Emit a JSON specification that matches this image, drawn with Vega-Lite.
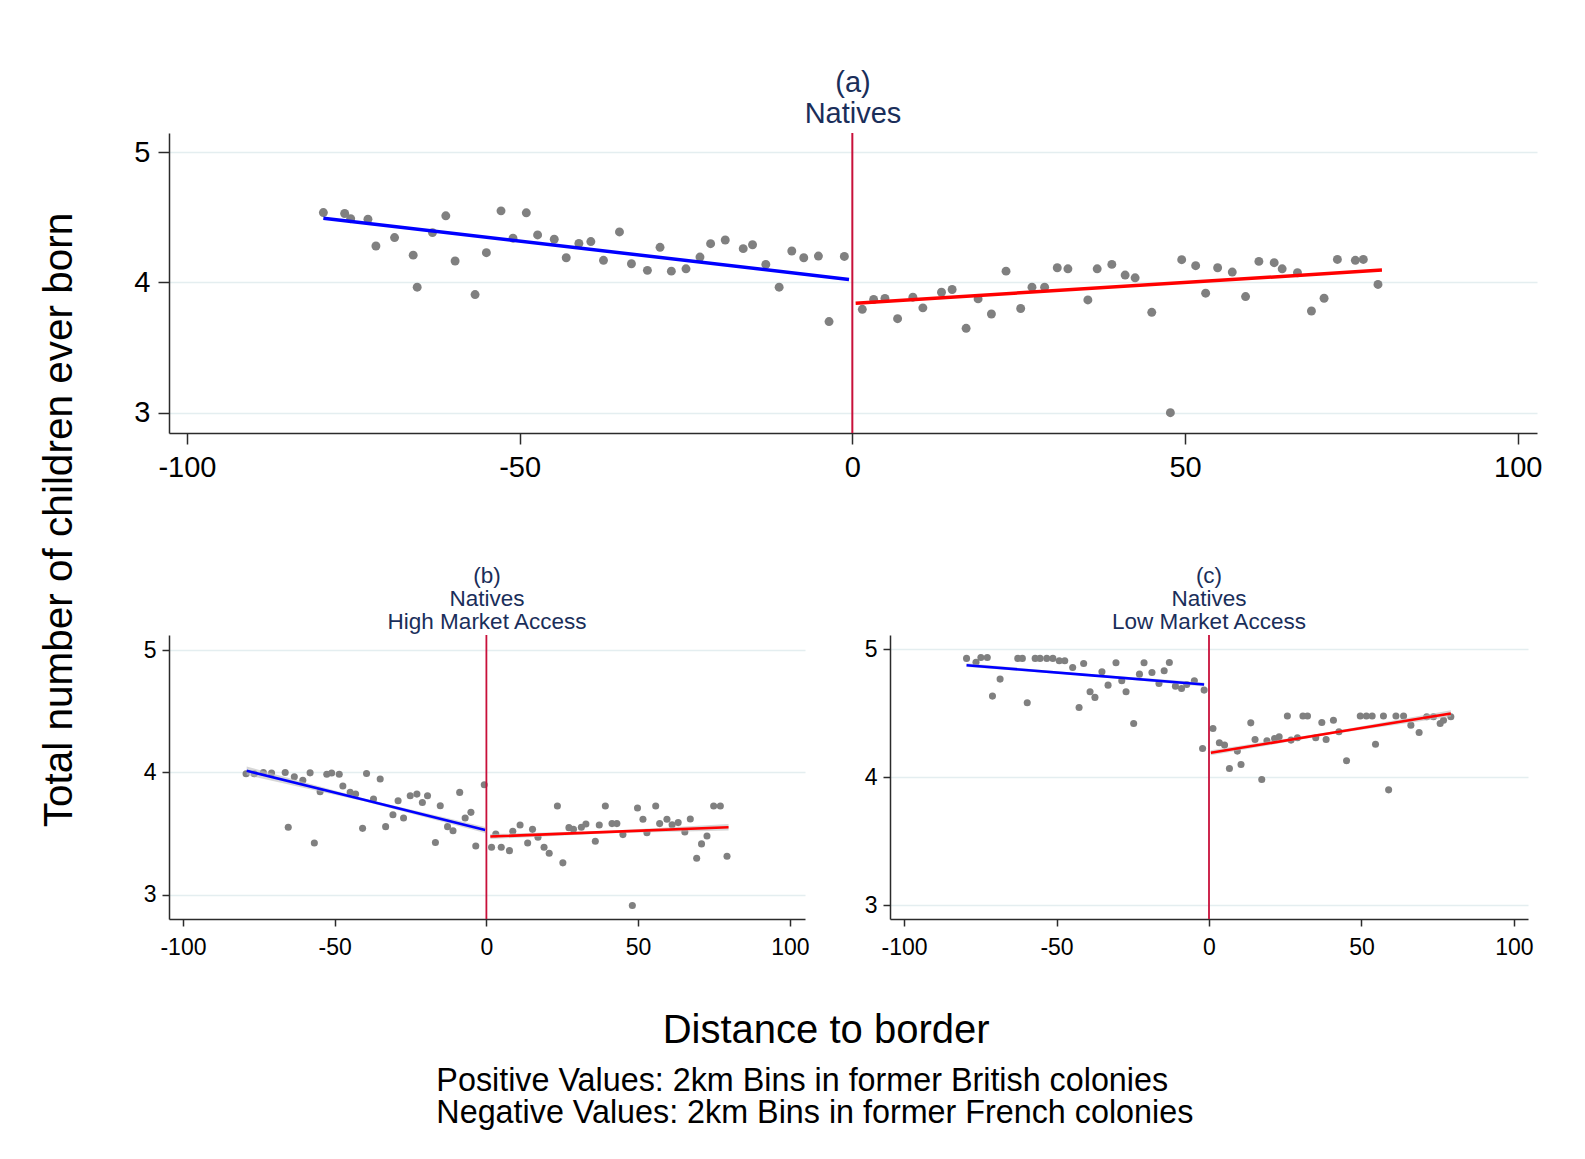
{
  "$schema": "https://vega.github.io/schema/vega-lite/v6.json",
  "background": "white",
  "padding": {"left": 40, "top": 69, "right": 30, "bottom": 20},
  "config": {
    "font": "Liberation Sans",
    "view": {"stroke": null},
    "axis": {
      "domainColor": "#2b2b2b",
      "domainWidth": 1.5,
      "tickColor": "#2b2b2b",
      "tickWidth": 1.5,
      "labelColor": "black",
      "labelFont": "Liberation Sans",
      "gridColor": "#e4eef0",
      "gridWidth": 1.5,
      "title": null
    }
  },
  "datasets": {
    "a_pts": [
      {"x": -79.5, "y": 4.537}, {"x": -76.3, "y": 4.53}, {"x": -75.4, "y": 4.49}, {"x": -72.8, "y": 4.486}, {"x": -71.6, "y": 4.28},
      {"x": -68.8, "y": 4.345}, {"x": -66.0, "y": 4.21}, {"x": -65.4, "y": 3.964}, {"x": -63.1, "y": 4.383}, {"x": -61.1, "y": 4.512},
      {"x": -59.7, "y": 4.165}, {"x": -56.7, "y": 3.907}, {"x": -55.0, "y": 4.229}, {"x": -52.8, "y": 4.55}, {"x": -51.0, "y": 4.34},
      {"x": -49.0, "y": 4.535}, {"x": -47.3, "y": 4.365}, {"x": -44.8, "y": 4.332}, {"x": -43.0, "y": 4.19}, {"x": -41.1, "y": 4.30},
      {"x": -39.3, "y": 4.314}, {"x": -37.4, "y": 4.17}, {"x": -35.0, "y": 4.388}, {"x": -33.2, "y": 4.144}, {"x": -30.8, "y": 4.093},
      {"x": -28.9, "y": 4.27}, {"x": -27.2, "y": 4.087}, {"x": -25.0, "y": 4.105}, {"x": -22.9, "y": 4.195}, {"x": -21.3, "y": 4.298},
      {"x": -19.1, "y": 4.326}, {"x": -16.4, "y": 4.26}, {"x": -15.0, "y": 4.29}, {"x": -13.0, "y": 4.139}, {"x": -11.0, "y": 3.964},
      {"x": -9.1, "y": 4.242}, {"x": -7.3, "y": 4.19}, {"x": -5.1, "y": 4.203}, {"x": -3.5, "y": 3.70}, {"x": -1.2, "y": 4.2},
      {"x": 1.5, "y": 3.794}, {"x": 3.2, "y": 3.869}, {"x": 4.9, "y": 3.877}, {"x": 6.8, "y": 3.722}, {"x": 9.1, "y": 3.887},
      {"x": 10.6, "y": 3.805}, {"x": 13.4, "y": 3.925}, {"x": 15.0, "y": 3.946}, {"x": 17.1, "y": 3.648}, {"x": 18.9, "y": 3.874},
      {"x": 20.9, "y": 3.758}, {"x": 23.1, "y": 4.087}, {"x": 25.3, "y": 3.80}, {"x": 27.0, "y": 3.964}, {"x": 28.9, "y": 3.964},
      {"x": 30.8, "y": 4.113}, {"x": 32.4, "y": 4.105}, {"x": 35.4, "y": 3.866}, {"x": 36.8, "y": 4.105}, {"x": 39.0, "y": 4.139},
      {"x": 41.0, "y": 4.057}, {"x": 42.5, "y": 4.036}, {"x": 45.0, "y": 3.771}, {"x": 47.8, "y": 3.0}, {"x": 49.5, "y": 4.175},
      {"x": 51.6, "y": 4.129}, {"x": 53.1, "y": 3.918}, {"x": 54.9, "y": 4.113}, {"x": 57.1, "y": 4.08}, {"x": 59.1, "y": 3.892},
      {"x": 61.1, "y": 4.162}, {"x": 63.4, "y": 4.152}, {"x": 64.6, "y": 4.105}, {"x": 66.9, "y": 4.075}, {"x": 69.0, "y": 3.781},
      {"x": 70.9, "y": 3.879}, {"x": 72.9, "y": 4.177}, {"x": 75.6, "y": 4.17}, {"x": 76.8, "y": 4.177}, {"x": 79.0, "y": 3.985}
    ],
    "a_fit": [
      {"x": -79.5, "y": 4.494, "side": "French"}, {"x": -0.5, "y": 4.023, "side": "French"},
      {"x": 0.5, "y": 3.841, "side": "British"}, {"x": 79.6, "y": 4.095, "side": "British"}
    ],
    "b_pts": [
      {"x": -79.2, "y": 3.99}, {"x": -76.5, "y": 3.99}, {"x": -73.5, "y": 4.0}, {"x": -70.8, "y": 3.995}, {"x": -66.3, "y": 4.0},
      {"x": -65.3, "y": 3.552}, {"x": -63.3, "y": 3.965}, {"x": -60.5, "y": 3.937}, {"x": -58.1, "y": 3.997}, {"x": -56.7, "y": 3.424},
      {"x": -54.8, "y": 3.842}, {"x": -52.6, "y": 3.986}, {"x": -51.0, "y": 3.995}, {"x": -48.5, "y": 3.986}, {"x": -47.3, "y": 3.889},
      {"x": -44.9, "y": 3.837}, {"x": -43.1, "y": 3.823}, {"x": -40.8, "y": 3.543}, {"x": -39.5, "y": 3.992}, {"x": -37.2, "y": 3.783},
      {"x": -35.0, "y": 3.946}, {"x": -33.2, "y": 3.557}, {"x": -30.8, "y": 3.655}, {"x": -29.1, "y": 3.769}, {"x": -27.3, "y": 3.628},
      {"x": -25.1, "y": 3.81}, {"x": -22.9, "y": 3.823}, {"x": -21.1, "y": 3.755}, {"x": -19.4, "y": 3.81}, {"x": -16.8, "y": 3.427},
      {"x": -15.2, "y": 3.728}, {"x": -12.8, "y": 3.557}, {"x": -11.0, "y": 3.524}, {"x": -8.8, "y": 3.837}, {"x": -7.0, "y": 3.628},
      {"x": -5.1, "y": 3.674}, {"x": -3.5, "y": 3.399}, {"x": -0.7, "y": 3.9},
      {"x": 1.7, "y": 3.389}, {"x": 3.1, "y": 3.497}, {"x": 4.9, "y": 3.389}, {"x": 7.6, "y": 3.361}, {"x": 8.7, "y": 3.519},
      {"x": 11.1, "y": 3.571}, {"x": 13.6, "y": 3.424}, {"x": 15.2, "y": 3.535}, {"x": 17.0, "y": 3.47}, {"x": 19.0, "y": 3.389},
      {"x": 20.7, "y": 3.34}, {"x": 23.4, "y": 3.726}, {"x": 25.2, "y": 3.261}, {"x": 27.2, "y": 3.549}, {"x": 28.7, "y": 3.535},
      {"x": 31.3, "y": 3.552}, {"x": 32.8, "y": 3.579}, {"x": 35.9, "y": 3.438}, {"x": 37.2, "y": 3.571}, {"x": 39.2, "y": 3.726},
      {"x": 41.4, "y": 3.582}, {"x": 43.0, "y": 3.582}, {"x": 45.0, "y": 3.492}, {"x": 48.1, "y": 2.913}, {"x": 49.8, "y": 3.709},
      {"x": 51.6, "y": 3.617}, {"x": 52.9, "y": 3.508}, {"x": 55.8, "y": 3.726}, {"x": 57.1, "y": 3.582}, {"x": 59.5, "y": 3.617},
      {"x": 61.2, "y": 3.573}, {"x": 63.2, "y": 3.59}, {"x": 65.4, "y": 3.514}, {"x": 67.2, "y": 3.62}, {"x": 69.3, "y": 3.299},
      {"x": 70.9, "y": 3.416}, {"x": 72.7, "y": 3.481}, {"x": 74.9, "y": 3.726}, {"x": 77.1, "y": 3.726}, {"x": 79.3, "y": 3.315}
    ],
    "b_fit": [
      {"x": -79.0, "y": 4.014, "lo": 3.979, "hi": 4.049, "side": "French"},
      {"x": -39.7, "y": 3.772, "lo": 3.760, "hi": 3.784, "side": "French"},
      {"x": -0.4, "y": 3.53, "lo": 3.505, "hi": 3.555, "side": "French"},
      {"x": 1.3, "y": 3.476, "lo": 3.456, "hi": 3.496, "side": "British"},
      {"x": 40.5, "y": 3.514, "lo": 3.504, "hi": 3.524, "side": "British"},
      {"x": 79.8, "y": 3.552, "lo": 3.525, "hi": 3.579, "side": "British"}
    ],
    "c_pts": [
      {"x": -79.5, "y": 4.93}, {"x": -76.4, "y": 4.90}, {"x": -74.8, "y": 4.937}, {"x": -72.7, "y": 4.937}, {"x": -71.0, "y": 4.635},
      {"x": -68.5, "y": 4.768}, {"x": -62.7, "y": 4.93}, {"x": -61.2, "y": 4.93}, {"x": -59.6, "y": 4.583}, {"x": -57.0, "y": 4.93},
      {"x": -55.4, "y": 4.93}, {"x": -53.2, "y": 4.93}, {"x": -51.2, "y": 4.93}, {"x": -49.1, "y": 4.911}, {"x": -47.3, "y": 4.911},
      {"x": -44.7, "y": 4.859}, {"x": -42.6, "y": 4.546}, {"x": -41.1, "y": 4.89}, {"x": -39.0, "y": 4.669}, {"x": -37.4, "y": 4.625},
      {"x": -35.1, "y": 4.825}, {"x": -33.1, "y": 4.721}, {"x": -30.5, "y": 4.896}, {"x": -28.6, "y": 4.755}, {"x": -27.2, "y": 4.669},
      {"x": -24.7, "y": 4.421}, {"x": -22.8, "y": 4.807}, {"x": -21.3, "y": 4.896}, {"x": -18.7, "y": 4.82}, {"x": -16.4, "y": 4.734},
      {"x": -14.7, "y": 4.833}, {"x": -13.0, "y": 4.898}, {"x": -11.0, "y": 4.713}, {"x": -9.0, "y": 4.695}, {"x": -7.3, "y": 4.726},
      {"x": -4.8, "y": 4.755}, {"x": -2.1, "y": 4.226}, {"x": -1.6, "y": 4.682},
      {"x": 1.3, "y": 4.382}, {"x": 3.4, "y": 4.27}, {"x": 5.1, "y": 4.252}, {"x": 6.7, "y": 4.069}, {"x": 9.3, "y": 4.205},
      {"x": 10.5, "y": 4.10}, {"x": 13.7, "y": 4.426}, {"x": 15.1, "y": 4.296}, {"x": 17.3, "y": 3.983}, {"x": 19.0, "y": 4.286},
      {"x": 21.5, "y": 4.304}, {"x": 23.0, "y": 4.317}, {"x": 25.7, "y": 4.479}, {"x": 26.9, "y": 4.291}, {"x": 29.0, "y": 4.309},
      {"x": 30.8, "y": 4.479}, {"x": 32.3, "y": 4.479}, {"x": 35.0, "y": 4.309}, {"x": 37.0, "y": 4.429}, {"x": 38.4, "y": 4.296},
      {"x": 40.8, "y": 4.447}, {"x": 42.6, "y": 4.356}, {"x": 45.1, "y": 4.129}, {"x": 49.6, "y": 4.479}, {"x": 51.6, "y": 4.479},
      {"x": 53.5, "y": 4.479}, {"x": 54.6, "y": 4.259}, {"x": 57.2, "y": 4.479}, {"x": 58.9, "y": 3.902}, {"x": 61.3, "y": 4.479},
      {"x": 63.8, "y": 4.479}, {"x": 66.2, "y": 4.408}, {"x": 68.9, "y": 4.351}, {"x": 71.4, "y": 4.473}, {"x": 73.6, "y": 4.473},
      {"x": 75.8, "y": 4.421}, {"x": 76.9, "y": 4.447}, {"x": 79.3, "y": 4.473}
    ],
    "c_fit": [
      {"x": -79.5, "y": 4.877, "lo": 4.862, "hi": 4.892, "side": "French"},
      {"x": -40.5, "y": 4.8015, "lo": 4.794, "hi": 4.809, "side": "French"},
      {"x": -1.6, "y": 4.726, "lo": 4.711, "hi": 4.741, "side": "French"},
      {"x": 0.6, "y": 4.192, "lo": 4.172, "hi": 4.212, "side": "British"},
      {"x": 40.0, "y": 4.346, "lo": 4.336, "hi": 4.356, "side": "British"},
      {"x": 79.3, "y": 4.499, "lo": 4.474, "hi": 4.524, "side": "British"}
    ],
    "border": [{"x": 0}]
  },
  "title": {
    "text": ["Positive Values: 2km Bins in former British colonies", "Negative Values: 2km Bins in former French colonies"],
    "orient": "bottom",
    "anchor": "start",
    "align": "left",
    "dx": 396,
    "font": "Liberation Sans",
    "fontSize": 32.3,
    "lineHeight": 32.3,
    "fontWeight": "normal",
    "color": "black",
    "offset": 14
  },
  "vconcat": [
    {
      "title": {
        "text": "Distance to border",
        "orient": "bottom",
        "anchor": "middle",
        "dx": 35,
        "font": "Liberation Sans",
        "fontSize": 40,
        "fontWeight": "normal",
        "color": "black",
        "offset": 52
      },
      "vconcat": [
        {
          "title": {
            "text": "Total number of children ever born",
            "orient": "left",
            "anchor": "middle",
            "dx": -6,
            "font": "Liberation Sans",
            "fontSize": 40.5,
            "fontWeight": "normal",
            "color": "black",
            "offset": 53
          },
          "spacing": 83,
          "vconcat": [
            {
              "width": 1368,
              "height": 300,
              "title": {"text": ["(a)", "Natives"], "font": "Liberation Sans", "fontSize": 29, "lineHeight": 31, "color": "#1a2e5a", "fontWeight": "normal", "anchor": "middle", "offset": 3},
              "layer": [
                {
                  "data": {"name": "a_pts"},
                  "mark": {"type": "point", "filled": true, "shape": "circle", "size": 80, "color": "#808080", "opacity": 1},
                  "encoding": {
                    "x": {"field": "x", "type": "quantitative", "scale": {"domain": [-102.7, 102.9], "nice": false, "zero": false},
                          "axis": {"values": [-100, -50, 0, 50, 100], "labelFontSize": 29, "tickSize": 11, "labelPadding": 9, "grid": false, "labelExpr": "'' + datum.value"}},
                    "y": {"field": "y", "type": "quantitative", "scale": {"domain": [2.844, 5.148], "nice": false, "zero": false},
                          "axis": {"values": [3, 4, 5], "labelFontSize": 29, "tickSize": 11, "labelPadding": 8, "grid": true, "labelExpr": "'' + datum.value"}}
                  }
                },
                {
                  "data": {"name": "a_fit"},
                  "mark": {"type": "line", "strokeWidth": 3.5},
                  "encoding": {
                    "x": {"field": "x", "type": "quantitative"},
                    "y": {"field": "y", "type": "quantitative"},
                    "detail": {"field": "side"},
                    "color": {"field": "side", "type": "nominal", "scale": {"domain": ["French", "British"], "range": ["#0000ff", "#ff0000"]}, "legend": null}
                  }
                },
                {
                  "data": {"name": "border"},
                  "mark": {"type": "rule", "color": "#c8103a", "strokeWidth": 2},
                  "encoding": {"x": {"field": "x", "type": "quantitative"}}
                }
              ]
            },
            {
              "spacing": 54,
              "hconcat": [
                {
                  "width": 636,
                  "height": 284,
                  "title": {"text": ["(b)", "Natives", "High Market Access"], "font": "Liberation Sans", "fontSize": 22.5, "lineHeight": 22.7, "color": "#1a2e5a", "fontWeight": "normal", "anchor": "middle", "offset": 1},
                  "layer": [
                    {
                      "data": {"name": "b_pts"},
                      "mark": {"type": "point", "filled": true, "shape": "circle", "size": 50, "color": "#808080", "opacity": 1},
                      "encoding": {
                        "x": {"field": "x", "type": "quantitative", "scale": {"domain": [-104.6, 105.0], "nice": false, "zero": false},
                              "axis": {"values": [-100, -50, 0, 50, 100], "labelFontSize": 23, "tickSize": 7, "labelPadding": 10, "grid": false, "labelExpr": "'' + datum.value"}},
                        "y": {"field": "y", "type": "quantitative", "scale": {"domain": [2.802, 5.124], "nice": false, "zero": false},
                              "axis": {"values": [3, 4, 5], "labelFontSize": 23, "tickSize": 7, "labelPadding": 6, "grid": true, "labelExpr": "'' + datum.value"}}
                      }
                    },
                    {
                      "data": {"name": "b_fit"},
                      "mark": {"type": "area", "color": "#bdbdbd", "opacity": 0.6},
                      "encoding": {
                        "x": {"field": "x", "type": "quantitative"},
                        "y": {"field": "lo", "type": "quantitative"},
                        "y2": {"field": "hi"},
                        "detail": {"field": "side"}
                      }
                    },
                    {
                      "data": {"name": "b_fit"},
                      "mark": {"type": "line", "strokeWidth": 2.6},
                      "encoding": {
                        "x": {"field": "x", "type": "quantitative"},
                        "y": {"field": "y", "type": "quantitative"},
                        "detail": {"field": "side"},
                        "color": {"field": "side", "type": "nominal", "scale": {"domain": ["French", "British"], "range": ["#0000ff", "#ff0000"]}, "legend": null}
                      }
                    },
                    {
                      "data": {"name": "border"},
                      "mark": {"type": "rule", "color": "#c8103a", "strokeWidth": 1.8},
                      "encoding": {"x": {"field": "x", "type": "quantitative"}}
                    }
                  ]
                },
                {
                  "width": 638,
                  "height": 284,
                  "title": {"text": ["(c)", "Natives", "Low Market Access"], "font": "Liberation Sans", "fontSize": 22.5, "lineHeight": 22.7, "color": "#1a2e5a", "fontWeight": "normal", "anchor": "middle", "offset": 1},
                  "layer": [
                    {
                      "data": {"name": "c_pts"},
                      "mark": {"type": "point", "filled": true, "shape": "circle", "size": 50, "color": "#808080", "opacity": 1},
                      "encoding": {
                        "x": {"field": "x", "type": "quantitative", "scale": {"domain": [-104.6, 104.6], "nice": false, "zero": false},
                              "axis": {"values": [-100, -50, 0, 50, 100], "labelFontSize": 23, "tickSize": 7, "labelPadding": 10, "grid": false, "labelExpr": "'' + datum.value"}},
                        "y": {"field": "y", "type": "quantitative", "scale": {"domain": [2.892, 5.113], "nice": false, "zero": false},
                              "axis": {"values": [3, 4, 5], "labelFontSize": 23, "tickSize": 7, "labelPadding": 6, "grid": true, "labelExpr": "'' + datum.value"}}
                      }
                    },
                    {
                      "data": {"name": "c_fit"},
                      "mark": {"type": "area", "color": "#bdbdbd", "opacity": 0.6},
                      "encoding": {
                        "x": {"field": "x", "type": "quantitative"},
                        "y": {"field": "lo", "type": "quantitative"},
                        "y2": {"field": "hi"},
                        "detail": {"field": "side"}
                      }
                    },
                    {
                      "data": {"name": "c_fit"},
                      "mark": {"type": "line", "strokeWidth": 2.6},
                      "encoding": {
                        "x": {"field": "x", "type": "quantitative"},
                        "y": {"field": "y", "type": "quantitative"},
                        "detail": {"field": "side"},
                        "color": {"field": "side", "type": "nominal", "scale": {"domain": ["French", "British"], "range": ["#0000ff", "#ff0000"]}, "legend": null}
                      }
                    },
                    {
                      "data": {"name": "border"},
                      "mark": {"type": "rule", "color": "#c8103a", "strokeWidth": 1.8},
                      "encoding": {"x": {"field": "x", "type": "quantitative"}}
                    }
                  ]
                }
              ]
            }
          ]
        }
      ]
    }
  ]
}
